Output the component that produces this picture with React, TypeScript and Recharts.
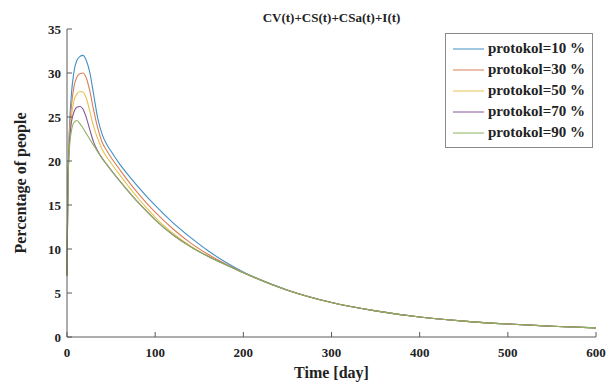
import { LineChart, Line, XAxis, YAxis, Legend } from "recharts";

const FONT = '"Liberation Serif", "Times New Roman", serif';
const AXIS = "#5a5a5a";

// sampling days for every series
const DAYS = [
  0, 1, 2, 3, 5, 8, 11, 15, 18, 22, 26, 30, 35, 40, 45, 50, 60, 70, 80, 90, 100,
  120, 140, 160, 180, 200, 250, 300, 350, 400, 450, 500, 550, 600,
];

const P10 = [
  7, 17, 21.5, 24.3, 27.6, 30.2, 31.4, 31.9, 32.0, 31.4, 30.0, 27.7, 24.8, 23.0,
  21.9, 21.1, 19.62, 18.34, 17.14, 16.01, 14.95, 13.0, 11.32, 9.8, 8.5, 7.4, 5.35,
  3.93, 2.97, 2.27, 1.8, 1.47, 1.23, 1.04,
];
const P30 = [
  7, 17, 21.2, 23.6, 26.2, 28.5, 29.5, 29.95, 30.0, 29.4, 27.9, 25.9, 23.7, 22.1,
  21.2, 20.4, 19.0, 17.65, 16.4, 15.25, 14.2, 12.3, 10.7, 9.4, 8.3, 7.33, 5.32,
  3.92, 2.97, 2.27, 1.8, 1.47, 1.23, 1.04,
];
const P50 = [
  7, 17, 20.8, 23.0, 25.1, 26.9, 27.6, 27.9, 27.85, 27.1, 25.6, 24.0, 22.5, 21.3,
  20.45, 19.75, 18.4, 17.1, 15.85, 14.7, 13.6, 11.8, 10.35, 9.2, 8.25, 7.3, 5.32,
  3.92, 2.97, 2.27, 1.8, 1.47, 1.23, 1.04,
];
const P70 = [
  7, 17, 20.4, 22.4, 24.4, 25.6, 26.1, 26.2, 25.9, 24.9, 23.5, 22.2, 21.1, 20.3,
  19.62, 18.97, 17.72, 16.52, 15.37, 14.32, 13.32, 11.62, 10.27, 9.17, 8.22, 7.3,
  5.32, 3.92, 2.97, 2.27, 1.8, 1.47, 1.23, 1.04,
];
const P90 = [
  7, 17, 20.0, 21.8, 23.4, 24.4, 24.6, 24.2, 23.75, 23.1, 22.45, 21.8, 21.0, 20.25,
  19.6, 18.95, 17.7, 16.5, 15.35, 14.3, 13.3, 11.6, 10.25, 9.15, 8.2, 7.3, 5.32,
  3.92, 2.97, 2.27, 1.8, 1.47, 1.23, 1.04,
];

const X_TICKS = [0, 100, 200, 300, 400, 500, 600];
const Y_TICKS = [0, 5, 10, 15, 20, 25, 30, 35];

const SERIES = [
  { key: "p10", name: "protokol=10 %", values: P10, color: "#3f8fc4" },
  { key: "p30", name: "protokol=30 %", values: P30, color: "#db7d55" },
  { key: "p50", name: "protokol=50 %", values: P50, color: "#e6c24e" },
  { key: "p70", name: "protokol=70 %", values: P70, color: "#85559a" },
  { key: "p90", name: "protokol=90 %", values: P90, color: "#8db35c" },
];

const data = DAYS.map((t, i) => {
  const row: Record<string, number> = { t };
  SERIES.forEach((s) => {
    row[s.key] = s.values[i];
  });
  return row;
});

const XTick = ({ x, y, payload }: any) => (
  <g>
    <line x1={x} x2={x} y1={y - 12} y2={y - 17} stroke={AXIS} />
    <text x={x} y={y} dy={8} textAnchor="middle" fontFamily={FONT} fontWeight="bold" fontSize={13} fill="#222">
      {payload.value}
    </text>
  </g>
);

const YTick = ({ x, y, payload }: any) => (
  <g>
    <line x1={x + 6} x2={x + 11} y1={y} y2={y} stroke={AXIS} />
    <text x={x} y={y} dy={4.5} textAnchor="end" fontFamily={FONT} fontWeight="bold" fontSize={13} fill="#222">
      {payload.value}
    </text>
  </g>
);

const LegendBox = ({ payload }: any) => (
  <div
    style={{
      border: "1px solid #8a8a8a",
      background: "#fff",
      width: 146,
      height: 109,
      boxSizing: "content-box",
      paddingTop: 4,
    }}
  >
    {(payload || []).map((p: any) => (
      <div key={p.value} style={{ display: "flex", alignItems: "center", height: 21 }}>
        <svg width={42} height={10} style={{ flex: "none" }}>
          <line x1={7} x2={38} y1={5} y2={5} stroke={p.color} strokeWidth={1} />
        </svg>
        <span style={{ fontFamily: FONT, fontWeight: "bold", fontSize: 15, color: "#222", whiteSpace: "nowrap" }}>
          {p.value}
        </span>
      </div>
    ))}
  </div>
);

export default function App() {
  return (
    <div style={{ position: "absolute", left: 0, top: 0, width: 608, height: 383, background: "#fff" }}>
      <div
        style={{
          position: "absolute",
          left: 67,
          width: 529,
          top: 10,
          textAlign: "center",
          fontFamily: FONT,
          fontWeight: "bold",
          fontSize: 13,
          color: "#222",
        }}
      >
        CV(t)+CS(t)+CSa(t)+I(t)
      </div>
      <LineChart width={608} height={383} data={data} margin={{ top: 29, right: 12, left: 0, bottom: 0 }}>
        <XAxis
          dataKey="t"
          type="number"
          domain={[0, 600]}
          ticks={X_TICKS}
          height={46}
          stroke={AXIS}
          tickLine={false}
          tickSize={0}
          tickMargin={12}
          tick={<XTick />}
          label={{
            content: ({ viewBox }: any) => (
              <text
                x={viewBox.x + viewBox.width / 2}
                y={viewBox.y + 41}
                textAnchor="middle"
                fontFamily={FONT}
                fontWeight="bold"
                fontSize={16}
                fill="#222"
              >
                Time [day]
              </text>
            ),
          }}
        />
        <YAxis
          type="number"
          domain={[0, 35]}
          ticks={Y_TICKS}
          width={67}
          stroke={AXIS}
          tickLine={false}
          tickSize={0}
          tickMargin={6}
          tick={<YTick />}
          label={{
            content: ({ viewBox }: any) => {
              const cx = 20;
              const cy = viewBox.y + viewBox.height / 2;
              return (
                <text
                  x={cx}
                  y={cy}
                  transform={`rotate(-90 ${cx} ${cy})`}
                  textAnchor="middle"
                  dominantBaseline="central"
                  fontFamily={FONT}
                  fontWeight="bold"
                  fontSize={16}
                  fill="#222"
                >
                  Percentage of people
                </text>
              );
            },
          }}
        />
        <Legend
          layout="vertical"
          align="center"
          verticalAlign="middle"
          content={<LegendBox />}
          wrapperStyle={{ left: 445, top: 33, width: 148, height: 113 }}
        />
        {SERIES.map((s) => (
          <Line
            key={s.key}
            type="monotone"
            dataKey={s.key}
            name={s.name}
            stroke={s.color}
            strokeWidth={1.1}
            dot={false}
            activeDot={false}
            isAnimationActive={false}
          />
        ))}
      </LineChart>
    </div>
  );
}
